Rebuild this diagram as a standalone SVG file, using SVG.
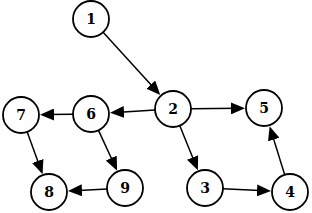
<svg xmlns="http://www.w3.org/2000/svg" width="312" height="213" viewBox="0 0 312 213">
<style>
.n circle{fill:#fff;stroke:#000;stroke-width:1.8}
.n text{font-family:"DejaVu Serif",serif;font-weight:bold;font-size:14px;text-anchor:middle;fill:#000}
.e line{stroke:#000;stroke-width:1.5;marker-end:url(#a)}
</style>
<defs>
<marker id="a" markerUnits="userSpaceOnUse" markerWidth="14" markerHeight="12" refX="8" refY="6" orient="auto">
<path d="M0,0 L14,6 L0,12 z" fill="#000"/>
</marker>
</defs>
<rect width="312" height="213" fill="#fff"/>
<g id="edges" class="e">
<line x1="103.1" y1="32.3" x2="156.2" y2="90.5"/>
<line x1="155" y1="110.1" x2="116" y2="112.5"/>
<line x1="191" y1="108.8" x2="239" y2="108.3"/>
<line x1="179.8" y1="125.7" x2="195.6" y2="164.8"/>
<line x1="223" y1="188.8" x2="265" y2="190.8"/>
<line x1="284.7" y1="174.8" x2="271.4" y2="131.9"/>
<line x1="73" y1="114.3" x2="46" y2="114.6"/>
<line x1="98.5" y1="130.4" x2="114.6" y2="165.3"/>
<line x1="27.2" y1="131.9" x2="40.5" y2="168.5"/>
<line x1="107" y1="188.9" x2="74" y2="190.7"/>
</g>
<g id="n1" class="n"><circle cx="91" cy="19" r="18"/><text x="91" y="24">1</text></g>
<g id="n2" class="n"><circle cx="173" cy="109" r="18"/><text x="173" y="114">2</text></g>
<g id="n3" class="n"><circle cx="205" cy="188" r="18"/><text x="205" y="193">3</text></g>
<g id="n4" class="n"><circle cx="290" cy="192" r="18"/><text x="290" y="197">4</text></g>
<g id="n5" class="n"><circle cx="264" cy="108" r="18"/><text x="264" y="113">5</text></g>
<g id="n6" class="n"><circle cx="91" cy="114" r="18"/><text x="91" y="119">6</text></g>
<g id="n7" class="n"><circle cx="21" cy="115" r="18"/><text x="21" y="120">7</text></g>
<g id="n8" class="n"><circle cx="49" cy="192" r="18"/><text x="49" y="197">8</text></g>
<g id="n9" class="n"><circle cx="125" cy="188" r="18"/><text x="125" y="193">9</text></g>
</svg>
